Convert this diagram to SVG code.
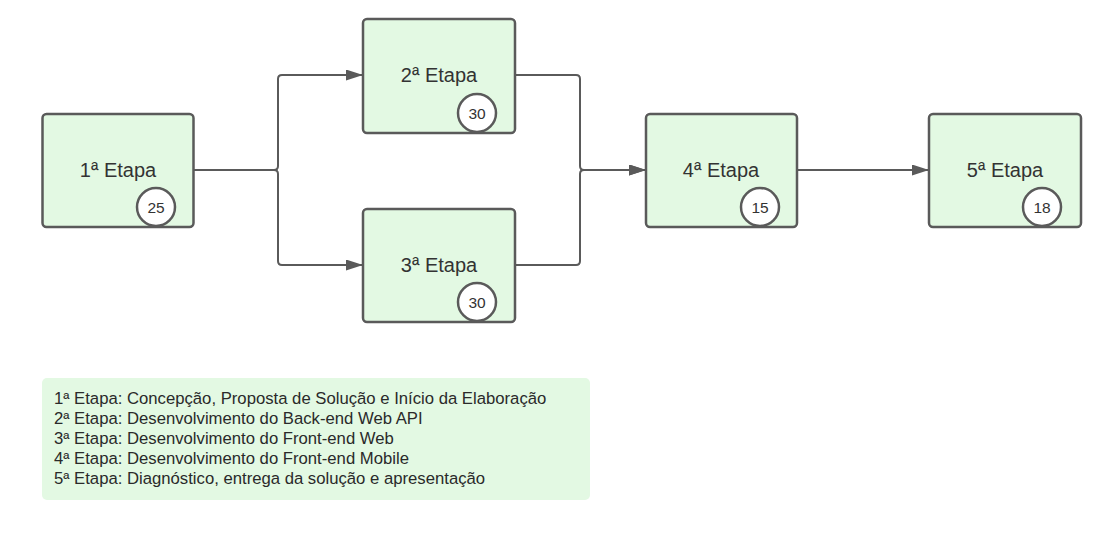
<svg xmlns="http://www.w3.org/2000/svg" width="1106" height="536" viewBox="0 0 1106 536">
<style>
.box{fill:#e3f9e3;stroke:#5a5a5a;stroke-width:2.5}
.lbl{font-family:"Liberation Sans",Arial,sans-serif;font-size:20px;fill:#333;text-anchor:middle;dominant-baseline:central}
.badge{fill:#fff;stroke:#5a5a5a;stroke-width:2.5}
.num{font-family:"Liberation Sans",Arial,sans-serif;font-size:15.5px;fill:#333;text-anchor:middle;dominant-baseline:central}
.conn{fill:none;stroke:#5a5a5a;stroke-width:2}
.legend{font-family:"Liberation Sans",Arial,sans-serif;font-size:16.7px;fill:#2a2a2a}
</style>
<defs>
<marker id="arr" markerWidth="17" markerHeight="11" refX="17" refY="5.5" orient="auto" markerUnits="userSpaceOnUse">
<path d="M0,0 L17,5.5 L0,11 Z" fill="#5a5a5a"/>
</marker>
</defs>
<rect width="1106" height="536" fill="#fff"/>
<g id="connectors">
<path class="conn" d="M194,170 H274 Q278,170 278,166 V79 Q278,75 282,75 H363" marker-end="url(#arr)"/>
<path class="conn" d="M194,170 H274 Q278,170 278,174 V261 Q278,265 282,265 H363" marker-end="url(#arr)"/>
<path class="conn" d="M515,75 H576 Q580,75 580,79 V166 Q580,170 584,170 H646" marker-end="url(#arr)"/>
<path class="conn" d="M515,265 H576 Q580,265 580,261 V174 Q580,170 584,170 H646" marker-end="url(#arr)"/>
<path class="conn" d="M797,170 H929" marker-end="url(#arr)"/>
</g>
<g id="node1">
<rect class="box" x="42.5" y="114" width="151" height="113" rx="4"/>
<text class="lbl" x="118" y="170">1ª Etapa</text>
<circle class="badge" cx="156" cy="207" r="19"/>
<text class="num" x="156" y="207">25</text>
</g>
<g id="node2">
<rect class="box" x="363" y="19" width="152" height="114" rx="4"/>
<text class="lbl" x="439" y="75">2ª Etapa</text>
<circle class="badge" cx="477" cy="113" r="19"/>
<text class="num" x="477" y="113">30</text>
</g>
<g id="node3">
<rect class="box" x="363" y="209" width="152" height="113" rx="4"/>
<text class="lbl" x="439" y="265">3ª Etapa</text>
<circle class="badge" cx="477" cy="302" r="19"/>
<text class="num" x="477" y="302">30</text>
</g>
<g id="node4">
<rect class="box" x="646" y="114" width="151" height="113" rx="4"/>
<text class="lbl" x="721" y="170">4ª Etapa</text>
<circle class="badge" cx="760" cy="207" r="19"/>
<text class="num" x="760" y="207">15</text>
</g>
<g id="node5">
<rect class="box" x="929" y="114" width="152" height="113" rx="4"/>
<text class="lbl" x="1005" y="170">5ª Etapa</text>
<circle class="badge" cx="1042" cy="207" r="19"/>
<text class="num" x="1042" y="207">18</text>
</g>
<g id="legend">
<rect x="42" y="378" width="548" height="122" rx="5" fill="#e3f9e3"/>
<text class="legend" x="54" y="404">1ª Etapa: Concepção, Proposta de Solução e Início da Elaboração</text>
<text class="legend" x="54" y="424">2ª Etapa: Desenvolvimento do Back-end Web API</text>
<text class="legend" x="54" y="444">3ª Etapa: Desenvolvimento do Front-end Web</text>
<text class="legend" x="54" y="464">4ª Etapa: Desenvolvimento do Front-end Mobile</text>
<text class="legend" x="54" y="484">5ª Etapa: Diagnóstico, entrega da solução e apresentação</text>
</g>
</svg>
